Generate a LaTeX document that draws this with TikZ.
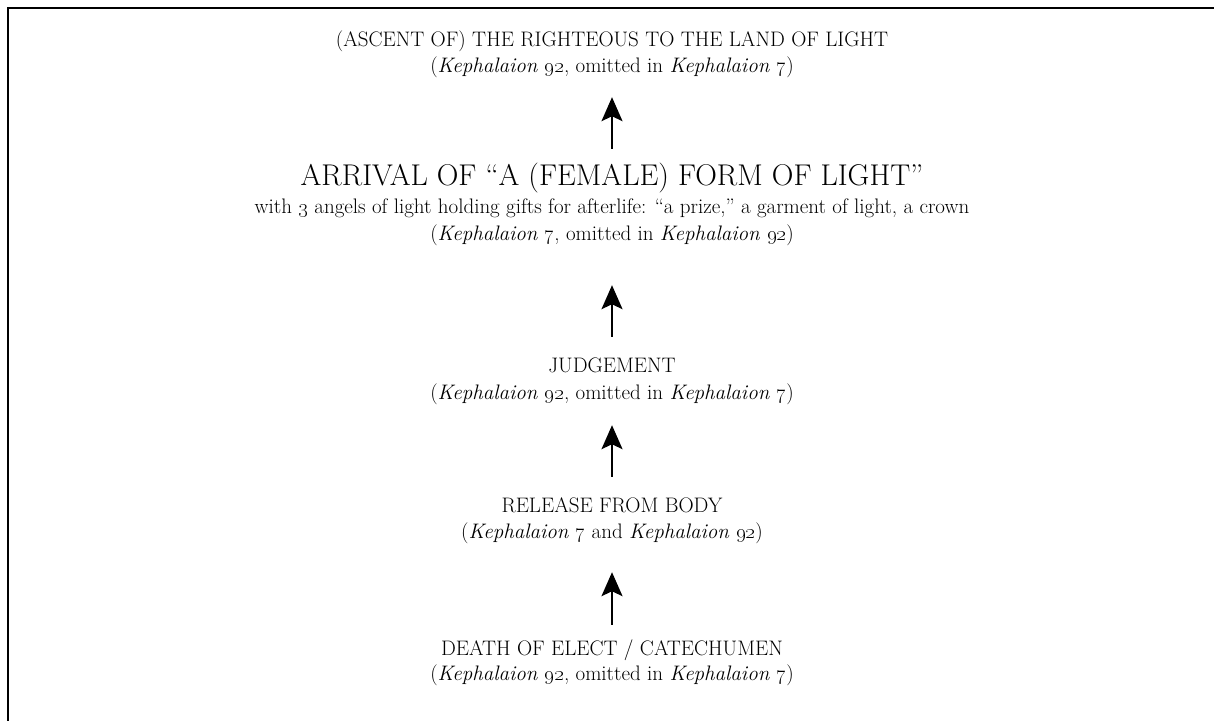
\documentclass[tikz,border=0pt]{standalone}
\usetikzlibrary{arrows.meta}
\newcommand{\keph}[1]{\textit{Kephalaion \oldstylenums{#1}}}

\begin{document}
\begin{tikzpicture}[x=1pt,y=-1pt,
	line/.style={inner sep=0pt, anchor=base, text height=15pt, text depth=5pt, font=\fontsize{21}{26}\selectfont},
	bigline/.style={line, text height=20pt, text depth=7pt, font=\fontsize{30}{34}\selectfont},
	up/.style={line width=2pt, -{Stealth[length=24pt,width=21pt,inset=5pt]}}]
	\useasboundingbox (0,0) rectangle (1214,721);
	\draw [line width=2pt] (1214,8) -- (8,8) -- (8,721);

	\node [line] (ascent) at (612,46) {(ASCENT OF) THE RIGHTEOUS TO THE LAND OF LIGHT};
	\node [line] (ascentsrc) at (612,72) {(\keph{92}, omitted in \keph{7})};

	\node [bigline] (arrival) at (612,185) {ARRIVAL OF “A (FEMALE) FORM OF LIGHT”};
	\node [line] (gifts) at (612,213) {with \oldstylenums{3} angels of light holding gifts for afterlife: “a prize,” a garment of light, a crown};
	\node [line] (arrivalsrc) at (612,240) {(\keph{7}, omitted in \keph{92})};

	\node [line] (judge) at (612,372) {JUDGEMENT};
	\node [line] (judgesrc) at (612,399) {(\keph{92}, omitted in \keph{7})};

	\node [line] (release) at (612,512) {RELEASE FROM BODY};
	\node [line] (releasesrc) at (612,538) {(\keph{7} and \keph{92})};

	\node [line] (death) at (612,655) {DEATH OF ELECT / CATECHUMEN};
	\node [line] (deathsrc) at (612,680) {(\keph{92}, omitted in \keph{7})};

	\draw [up, shorten <=16pt, shorten >=20pt] (arrival) -- (ascentsrc);
	\draw [up, shorten <=20pt, shorten >=40pt] (judge) -- (arrivalsrc);
	\draw [up, shorten <=20pt, shorten >=21pt] (release) -- (judgesrc);
	\draw [up, shorten <=15pt, shorten >=29pt] (death) -- (releasesrc);
\end{tikzpicture}
\end{document}
